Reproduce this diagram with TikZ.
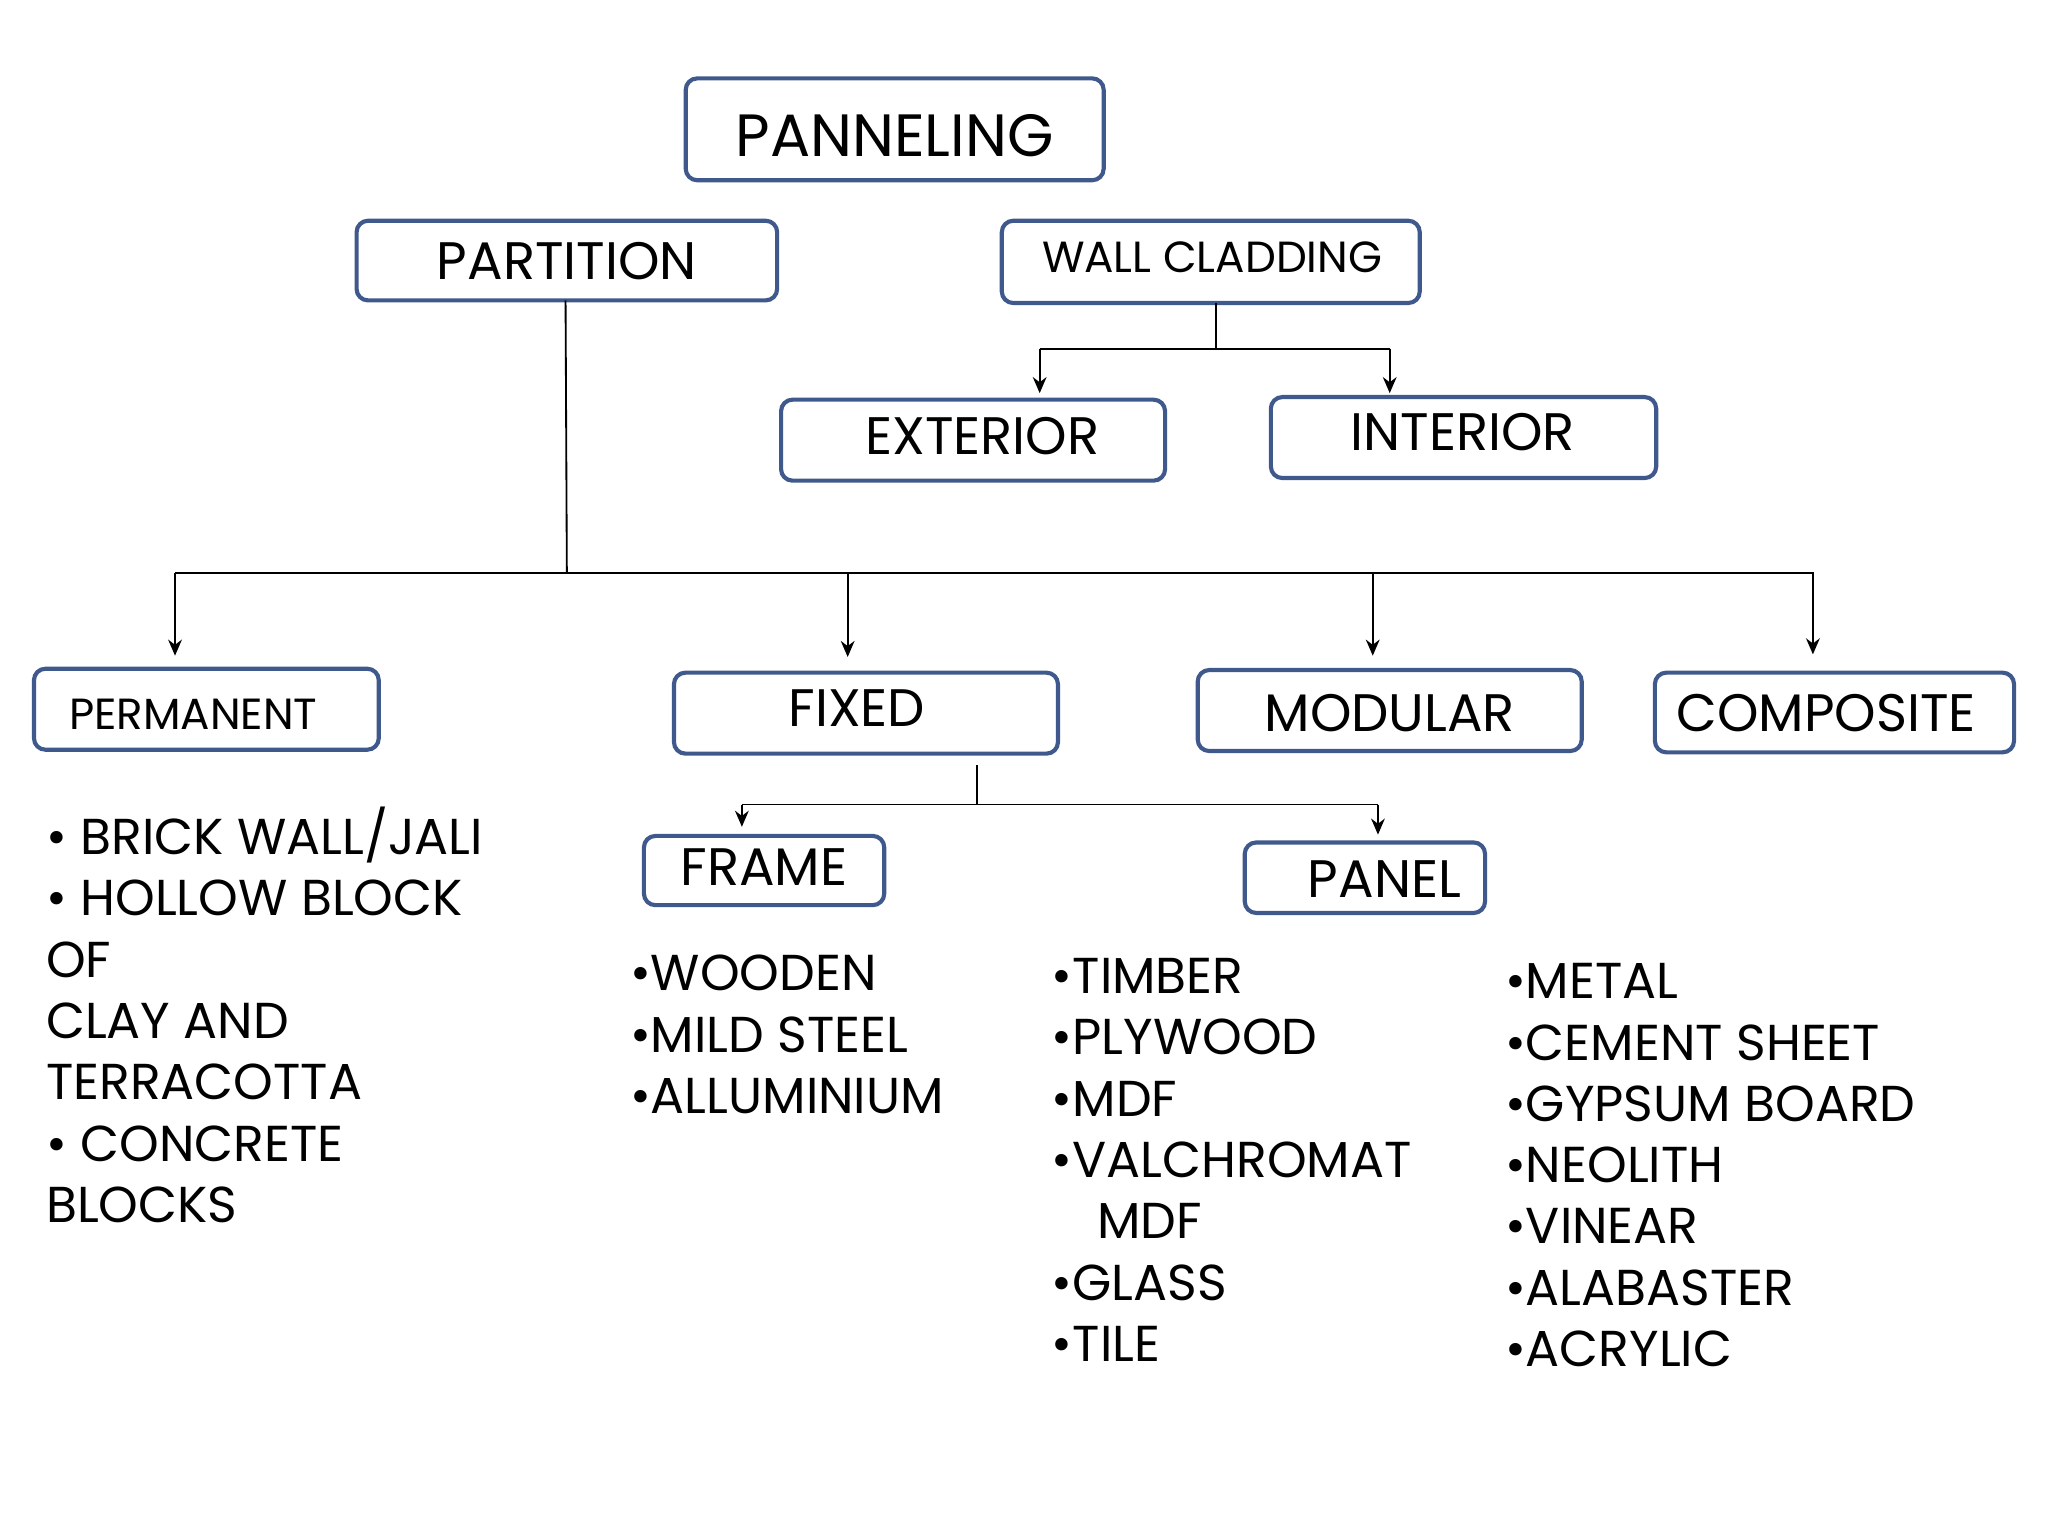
\documentclass[tikz,border=0pt]{standalone}
\usepackage{fontspec}
\setmainfont{Poppins}
\usetikzlibrary{arrows.meta}
\definecolor{bx}{rgb}{0.25,0.35,0.55}
\begin{document}
\begin{tikzpicture}[x=0.02cm,y=-0.02cm,
 box/.style={draw=bx,line width=1.8pt,rounded corners=5pt},
 lbl/.style={font=\fontsize{23}{26}\selectfont},
 big/.style={font=\fontsize{26}{28}\selectfont},
 sm/.style={font=\fontsize{19}{22}\selectfont},
 lst/.style={anchor=west,align=left,font=\fontsize{22}{26.7}\selectfont,inner sep=0pt},
 ln/.style={line width=0.8pt},
 ar/.style={ln,-{Stealth[length=7pt,width=6pt]}}]
\useasboundingbox (0,0) rectangle (1568,1176);
\draw[box] (525,60) rectangle (845,138); \node[big] (pan) at (685,104) {PANNELING};
\draw[box] (273,169) rectangle (595,230); \node[lbl] (par) at (434,200) {PARTITION};
\draw[box] (767,169) rectangle (1087,232); \node[sm] (wc) at (928,197) {WALL CLADDING};
\draw[box] (598,306) rectangle (892,368); \node[lbl] (ext) at (752,334) {EXTERIOR};
\draw[box] (973,304) rectangle (1268,366); \node[lbl] (int) at (1120,331) {INTERIOR};
\draw[box] (26,512) rectangle (290,574); \node[sm] (perm) at (148,547) {PERMANENT};
\draw[box] (516,515) rectangle (810,577); \node[lbl] (fix) at (656,542) {FIXED};
\draw[box] (917,513) rectangle (1211,575); \node[lbl] (mod) at (1064,546) {MODULAR};
\draw[box] (1267,515) rectangle (1542,576); \node[lbl] (comp) at (1398,546) {COMPOSITE};
\draw[box] (493,640) rectangle (677,693); \node[lbl] (fr) at (585,664) {FRAME};
\draw[box] (953,645) rectangle (1137,699); \node[lbl] (pnl) at (1060,673) {PANEL};
% connectors
\coordinate (j1) at (434,439);
\draw[ln] (433,230) -- (j1);
\draw[ln] (134,439) -- (1389,439);
\draw[ar] (134,439) -- (134,502);
\draw[ar] (649,439) -- (649,503);
\draw[ar] (1051,439) -- (1051,502);
\draw[ar] (1388,439) -- (1388,501);
\draw[ln] (931,232) -- (931,267);
\draw[ln] (796,267) -- (1064,267);
\draw[ar] (796,267) -- (796,301);
\draw[ar] (1064,267) -- (1064,301);
\draw[ln] (748,586) -- (748,616);
\draw[ln] (568,616) -- (1055,616);
\draw[ar] (568,616) -- (568,633);
\draw[ar] (1055,616) -- (1055,639);
% lists
\node[lst] (l1) at (35,777) {• BRICK WALL/JALI\\• HOLLOW BLOCK\\OF\\CLAY AND\\TERRACOTTA\\• CONCRETE\\BLOCKS};
\node[lst] (l2) at (482,792) {•WOODEN\\•MILD STEEL\\•ALLUMINIUM};
\node[lst] (l3) at (805,888) {•TIMBER\\•PLYWOOD\\•MDF\\•VALCHROMAT\\\hspace*{0.9em}MDF\\•GLASS\\•TILE};
\node[lst] (l4) at (1152,892) {•METAL\\•CEMENT SHEET\\•GYPSUM BOARD\\•NEOLITH\\•VINEAR\\•ALABASTER\\•ACRYLIC};
\end{tikzpicture}
\end{document}
